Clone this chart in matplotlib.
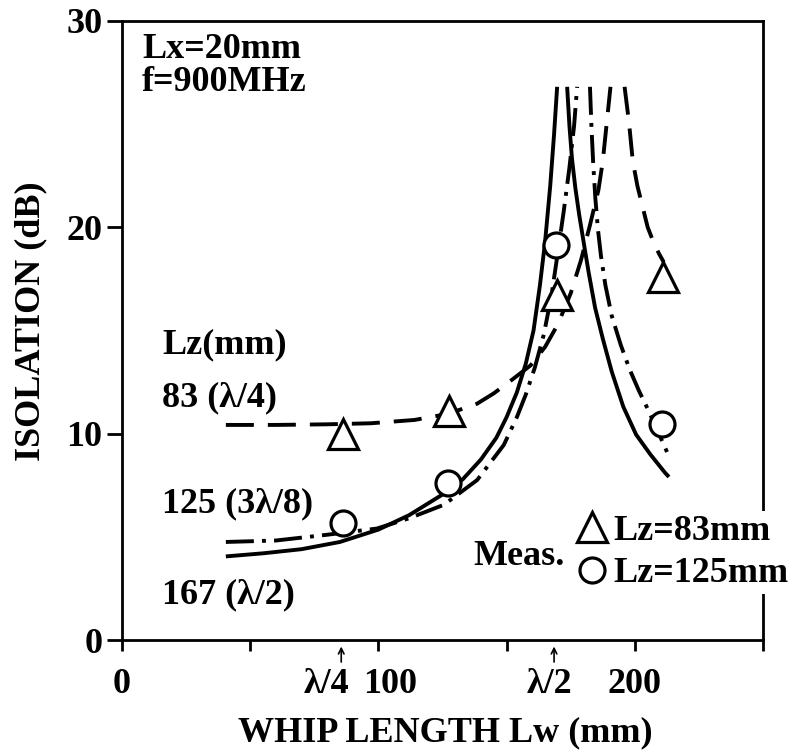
import matplotlib
matplotlib.use("Agg")
import matplotlib.pyplot as plt
import matplotlib.transforms as mtransforms

plt.rcParams['font.family'] = ['Liberation Serif', 'DejaVu Serif']
plt.rcParams['font.weight'] = 'bold'
plt.rcParams['axes.labelweight'] = 'bold'

# calculated curves (two branches each side of the resonance)
lz83_left_x = [40.5, 60, 80, 97, 114, 127, 138.5, 145, 152, 159.3, 165, 170, 175, 179, 182.5, 185.8, 187.5, 189.0, 190.5]
lz83_left_y = [10.42, 10.42, 10.45, 10.5, 10.66, 10.95, 11.45, 11.95, 12.6, 13.3, 14.2, 15.3, 16.8, 18.4, 20.1, 21.8, 23.2, 25.0, 26.8]
lz83_right_x = [196.0, 197.7, 199.2, 201.0, 203.0, 205.0, 207.5, 209.5, 211.3]
lz83_right_y = [26.8, 25.1, 23.2, 22.0, 21.0, 20.0, 19.2, 18.7, 18.3]

lz125_left_x = [40.5, 60, 80, 99.4, 112, 125.5, 138.5, 148.9, 154, 157.5, 161, 164.5, 167.5, 170, 172.3, 174.5, 176.3, 177.5]
lz125_left_y = [4.75, 4.82, 5.1, 5.4, 5.9, 6.55, 7.75, 9.45, 10.8, 11.9, 13.2, 14.8, 16.7, 18.8, 20.8, 22.9, 24.9, 26.8]
lz125_right_x = [182.5, 183.1, 183.8, 184.6, 185.6, 186.8, 188.5, 191.0, 194.5, 198.0, 201.5, 205.0, 209.0, 213.3]
lz125_right_y = [26.8, 24.8, 23.0, 21.4, 19.9, 18.6, 17.2, 15.7, 14.3, 13.1, 12.1, 11.2, 10.1, 8.9]

lz167_left_x = [40.5, 55, 70, 85, 100, 112, 125, 133, 140, 146, 150, 154, 157.5, 160.5, 163, 165, 167, 168.5, 169.7]
lz167_left_y = [4.05, 4.2, 4.4, 4.75, 5.35, 6.05, 7.05, 7.8, 8.75, 9.8, 10.8, 12.0, 13.4, 15.0, 17.2, 19.3, 22.0, 24.5, 26.8]
lz167_right_x = [173.6, 174.5, 175.5, 176.8, 178.3, 180.0, 182.0, 184.5, 187.5, 191.0, 195.5, 200.5, 206.0, 211.8, 213.3]
lz167_right_y = [26.8, 24.9, 23.3, 21.9, 20.6, 19.3, 17.8, 16.1, 14.6, 13.0, 11.3, 9.95, 9.0, 8.1, 7.9]

# measured points
meas83_x = [86, 127.5, 169.8, 210.8]
meas83_y = [10.0, 11.1, 16.7, 17.6]
meas125_x = [86, 127, 169.2, 210.7]
meas125_y = [5.65, 7.6, 19.15, 10.45]

curve_labels = ['Lz(mm)', '83 (λ/4)', '125 (3λ/8)', '167 (λ/2)']
label_y = [13.9, 11.3, 6.2, 1.8]
lambda_marks = [85.5, 168.5]
lambda_text = ['λ/4', 'λ/2']
lambda_text_x = [79.8, 166.5]

fs = 26

fig = plt.figure(figsize=(7.99, 7.55), dpi=100)
ax = fig.add_axes([0.1527, 0.1523, 0.8023, 0.8202])

lw = 2.8
dash = (7.2, 3.6)
dashdot = (7.2, 2.1, 1.0, 2.1)
for xs, ys in [(lz83_left_x, lz83_left_y), (lz83_right_x, lz83_right_y)]:
    ax.plot(xs, ys, color='black', lw=lw, dashes=dash)
for xs, ys in [(lz125_left_x, lz125_left_y), (lz125_right_x, lz125_right_y)]:
    ax.plot(xs, ys, color='black', lw=lw, dashes=dashdot)
for xs, ys in [(lz167_left_x, lz167_left_y), (lz167_right_x, lz167_right_y)]:
    ax.plot(xs, ys, color='black', lw=lw, solid_capstyle='butt', solid_joinstyle='round')

h83, = ax.plot(meas83_x, meas83_y, ls='none', marker='^', ms=21, mfc='white',
               mec='black', mew=2.3, label='Lz=83mm', zorder=4)
h125, = ax.plot(meas125_x, meas125_y, ls='none', marker='o', ms=18, mfc='white',
                mec='black', mew=2.3, label='Lz=125mm', zorder=4)

ax.set_xlim(0, 250)
ax.set_ylim(0, 30)
ax.set_xticks([0, 100, 200])
ax.set_xticks([50, 150, 250], minor=True)
ax.set_yticks([0, 10, 20, 30])
ax.tick_params(axis='x', which='both', direction='out', length=8, width=2, pad=12, labelsize=fs)
ax.tick_params(axis='y', direction='out', length=11, width=2, pad=3, labelsize=fs)
for s in ax.spines.values():
    s.set_linewidth(2)

# nudge the "100" label to the right, as in the original
t100 = ax.xaxis.get_major_ticks()[1].label1
t100.set_transform(t100.get_transform() + mtransforms.ScaledTranslation(12 / 100, 0, fig.dpi_scale_trans))

ax.set_xlabel('WHIP LENGTH Lw (mm)', fontsize=fs)
ax.xaxis.set_label_coords(0.505, -0.123)
ax.set_ylabel('ISOLATION (dB)', fontsize=fs)
ax.yaxis.set_label_coords(-0.117, 0.515)

trans = mtransforms.blended_transform_factory(ax.transData, ax.transAxes)
for xm in lambda_marks:
    ax.annotate('', xy=(xm, -0.006), xytext=(xm, -0.04), xycoords=trans, textcoords=trans,
                arrowprops=dict(arrowstyle='->', lw=1.2, color='black'), annotation_clip=False)
for xt, s in zip(lambda_text_x, lambda_text):
    ax.text(xt, -0.046, s, transform=trans, ha='center', va='top', fontsize=fs)

ax.text(7.8, 29.4, 'Lx=20mm\nf=900MHz', ha='left', va='top', fontsize=fs, linespacing=1.0)
for s, yv in zip(curve_labels, label_y):
    ax.text(15.6, yv, s, ha='left', va='baseline', fontsize=fs)

ax.text(136.9, 3.63, 'Meas.', ha='left', va='baseline', fontsize=fs)
leg = ax.legend(handles=[h83, h125], loc='center left', bbox_to_anchor=(0.699, 0.1413),
                frameon=True, fancybox=False, edgecolor='none', facecolor='white', framealpha=1,
                borderpad=0.1, borderaxespad=0, handlelength=1.0, handletextpad=0.1,
                labelspacing=0.25, fontsize=fs)

fig.savefig('out.png', dpi=100)
